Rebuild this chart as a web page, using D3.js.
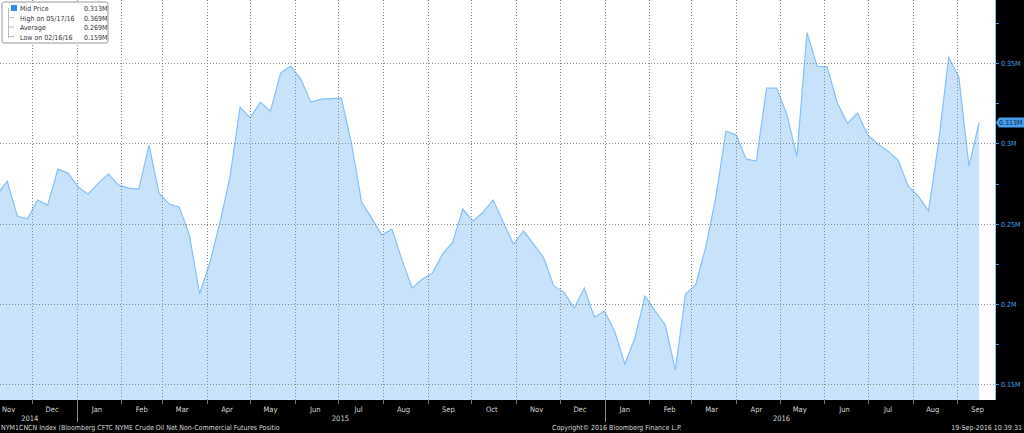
<!DOCTYPE html>
<html>
<head>
<meta charset="utf-8">
<script src="https://cdn.jsdelivr.net/npm/d3@7"></script>
<style>
  body { margin: 0; background: #000; }
  text { font-family: "DejaVu Sans Condensed", "Liberation Sans Narrow", "DejaVu Sans", sans-serif; }
</style>
</head>
<body>
<div id="chart"></div>
<script>
// weekly values (millions), last on 16 Sep 2016
const lastDate = "2016-09-16";
const values = [0.268, 0.2765, 0.2547, 0.2529, 0.2647, 0.2616, 0.2840, 0.2815, 0.2728, 0.2684,
  0.2753, 0.2809, 0.2740, 0.2722, 0.2715, 0.2989, 0.2690, 0.2622, 0.2603, 0.2429,
  0.2062, 0.2255, 0.2504, 0.2790, 0.3226, 0.3158, 0.3257, 0.3201, 0.3438, 0.3481,
  0.3400, 0.3257, 0.3276, 0.3279, 0.3282, 0.3002, 0.2634, 0.2535, 0.2429, 0.2466,
  0.2273, 0.2099, 0.2155, 0.2192, 0.2311, 0.2385, 0.2591, 0.2516, 0.2572, 0.2647,
  0.2510, 0.2373, 0.2454, 0.2373, 0.2286, 0.2111, 0.2074, 0.1974, 0.2099, 0.1918,
  0.1956, 0.1831, 0.1626, 0.1788, 0.2049, 0.1956, 0.1869, 0.159, 0.2062, 0.2118,
  0.2354, 0.2666, 0.3077, 0.3052, 0.2902, 0.2890, 0.3344, 0.3344, 0.3182, 0.2921,
  0.369, 0.3481, 0.3475, 0.3251, 0.3126, 0.3189, 0.3052, 0.2996, 0.2952, 0.2896,
  0.2734, 0.2672, 0.2578, 0.3008, 0.3537, 0.3413, 0.2859, 0.313];
const yTicks = [0.15, 0.2, 0.25, 0.3, 0.35];
const legendRows = [
  ["Mid Price", "0.313M"],
  ["High on 05/17/16", "0.369M"],
  ["Average", "0.269M"],
  ["Low on 02/16/16", "0.159M"]
];
const footerLeft = "NYM1CNCN Index (Bloomberg CFTC NYME Crude Oil Net Non-Commercial Futures Positio";
const footerMid = "Copyright\u00a9 2016 Bloomberg Finance L.P.";
const footerRight = "19-Sep-2016 10:39:31";

const w = 1024, h = 433;
const plotW = 995, plotH = 400;

const parse = d3.utcParse("%Y-%m-%d");
const end = parse(lastDate);
const data = values.map((v, i) => ({
  date: d3.utcDay.offset(end, -7 * (values.length - 1 - i)),
  value: v
}));

const x = d3.scaleUtc()
  .domain([parse("2014-11-09"), parse("2016-09-27")])
  .range([0, plotW]);
const y = d3.scaleLinear()
  .domain([0.1402, 0.3893])
  .range([plotH, 0]);

const svg = d3.select("#chart").append("svg")
  .attr("width", w).attr("height", h);

svg.append("rect").attr("width", w).attr("height", h).attr("fill", "#000");
svg.append("rect").attr("width", plotW).attr("height", plotH).attr("fill", "#fff");

svg.append("clipPath").attr("id", "clip")
  .append("rect").attr("width", plotW).attr("height", plotH);

const g = svg.append("g").attr("clip-path", "url(#clip)");

// area and line
g.append("path")
  .datum(data)
  .attr("fill", "#c9e2fc")
  .attr("d", d3.area().x(d => x(d.date)).y0(plotH).y1(d => y(d.value)));
g.append("path")
  .datum(data)
  .attr("fill", "none")
  .attr("stroke", "#84c1f7")
  .attr("stroke-width", 1.2)
  .attr("d", d3.line().x(d => x(d.date)).y(d => y(d.value)));

// grid
const months = d3.utcMonth.range(x.domain()[0], x.domain()[1]);
const labelMonths = d3.utcMonth.range(d3.utcMonth.floor(x.domain()[0]), x.domain()[1]);
g.selectAll(".vgrid").data(months).enter().append("line")
  .attr("x1", d => Math.round(x(d)) + 0.5).attr("x2", d => Math.round(x(d)) + 0.5)
  .attr("y1", 0).attr("y2", plotH)
  .attr("stroke", "#8a8a8a").attr("stroke-dasharray", "1,2").attr("stroke-width", 1);
g.selectAll(".hgrid").data(yTicks).enter().append("line")
  .attr("x1", 0).attr("x2", plotW)
  .attr("y1", d => Math.round(y(d)) + 0.5).attr("y2", d => Math.round(y(d)) + 0.5)
  .attr("stroke", "#8a8a8a").attr("stroke-dasharray", "1,2");

// right axis
svg.append("line").attr("x1", plotW + 0.5).attr("x2", plotW + 0.5)
  .attr("y1", 0).attr("y2", plotH).attr("stroke", "#8cc4f5");
const minor = d3.range(0.15, 0.389, 0.025);
svg.selectAll(".mt").data(minor).enter().append("line")
  .attr("x1", plotW + 1).attr("x2", plotW + 4)
  .attr("y1", d => Math.round(y(d)) + 0.5).attr("y2", d => Math.round(y(d)) + 0.5)
  .attr("stroke", "#3d8fd8");
svg.selectAll(".yl").data(yTicks).enter().append("text")
  .attr("x", plotW + 6).attr("y", d => y(d) + 3)
  .attr("font-size", 7).attr("fill", "#4aa0ec")
  .text(d => d + "M");

// last value tag
const ly = y(values[values.length - 1]);
svg.append("path")
  .attr("d", `M${plotW + 1},${ly} L${plotW + 4},${ly - 5} L1024,${ly - 5} L1024,${ly + 5} L${plotW + 4},${ly + 5} Z`)
  .attr("fill", "#4aa0ec");
svg.append("text").attr("x", plotW + 4).attr("y", ly + 2.5)
  .attr("font-size", 7).attr("fill", "#04203a").text("0.313M");

// bottom axis
svg.selectAll(".xt").data(months).enter().append("line")
  .attr("x1", d => Math.round(x(d)) + 0.5).attr("x2", d => Math.round(x(d)) + 0.5)
  .attr("y1", plotH).attr("y2", plotH + 4).attr("stroke", "#777");
const years = d3.utcYear.range(x.domain()[0], x.domain()[1]);
svg.selectAll(".yt").data(years).enter().append("line")
  .attr("x1", d => Math.round(x(d)) + 0.5).attr("x2", d => Math.round(x(d)) + 0.5)
  .attr("y1", plotH).attr("y2", plotH + 22).attr("stroke", "#888");
svg.selectAll(".ml").data(labelMonths).enter().append("text")
  .attr("x", d => Math.max(8, x(d3.utcDay.offset(d, 14))))
  .attr("y", plotH + 12).attr("text-anchor", "middle")
  .attr("font-size", 7.5).attr("fill", "#d8d8d8")
  .text(d3.utcFormat("%b"));
const yearLabels = [["2014", "2014-12-01"], ["2015", "2015-07-01"], ["2016", "2016-05-01"]];
svg.selectAll(".yrl").data(yearLabels).enter().append("text")
  .attr("x", d => x(parse(d[1])) - (d[0] === "2014" ? 2 : -2))
  .attr("y", plotH + 21).attr("text-anchor", "middle")
  .attr("font-size", 7.5).attr("fill", "#d8d8d8")
  .text(d => d[0]);

svg.append("text").attr("x", 1).attr("y", 430).attr("font-size", 7)
  .attr("fill", "#d8d8d8").text(footerLeft);
svg.append("text").attr("x", 552).attr("y", 430).attr("font-size", 7)
  .attr("fill", "#d8d8d8").text(footerMid);
svg.append("text").attr("x", 1022).attr("y", 430).attr("font-size", 7)
  .attr("text-anchor", "end").attr("fill", "#d8d8d8").text(footerRight);

// legend
const lg = svg.append("g").attr("transform", "translate(2,2)");
lg.append("rect").attr("width", 106).attr("height", 41).attr("rx", 2)
  .attr("fill", "#fff").attr("stroke", "#999");
lg.append("line").attr("x1", 6.5).attr("x2", 6.5).attr("y1", 6).attr("y2", 36)
  .attr("stroke", "#bbb");
lg.append("rect").attr("x", 9).attr("y", 3).attr("width", 6).attr("height", 6).attr("fill", "#2d8ef0");
legendRows.forEach((r, i) => {
  if (i > 0) {
    lg.append("line").attr("x1", 7).attr("x2", 12).attr("y1", 6 + i * 9.5).attr("y2", 6 + i * 9.5)
      .attr("stroke", "#bbb");
  }
  lg.append("text").attr("x", 18).attr("y", 9 + i * 9.5).attr("font-size", 7)
    .attr("fill", "#333").text(r[0]);
  lg.append("text").attr("x", 82).attr("y", 9 + i * 9.5).attr("font-size", 7)
    .attr("fill", "#333").text(r[1]);
});
</script>
</body>
</html>
